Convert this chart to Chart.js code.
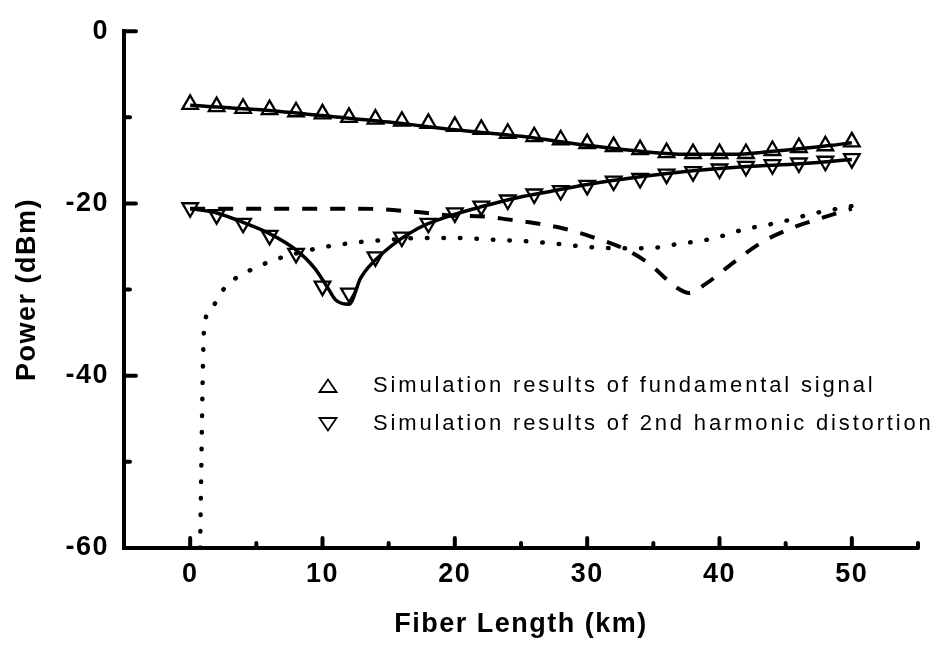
<!DOCTYPE html>
<html>
<head>
<meta charset="utf-8">
<script src="https://cdn.jsdelivr.net/npm/chart.js@4.4.0/dist/chart.umd.min.js"></script>
<style>
  body { margin: 0; background: #fff; }
  #wrap { width: 937px; height: 650px; }
</style>
</head>
<body>
<div id="wrap"><canvas id="chart" width="937" height="650"></canvas></div>
<script>
// simulation points (km / dBm)
const lengthKm = [0, 2, 4, 6, 8, 10, 12, 14, 16, 18, 20, 22, 24, 26, 28, 30, 32, 34, 36, 38, 40, 42, 44, 46, 48, 50];
const fundamentalSim = [-8.5, -8.75, -8.95, -9.1, -9.35, -9.6, -10.0, -10.2, -10.45, -10.7, -11.05, -11.4, -11.85,
  -12.25, -12.6, -13.05, -13.4, -13.75, -14.1, -14.2, -14.2, -14.2, -13.85, -13.5, -13.3, -12.85];
const harmonicSim = [-20.5, -21.3, -22.3, -23.7, -25.8, -29.6, -30.4, -26.2, -23.9, -22.3, -21.1, -20.3, -19.6,
  -18.9, -18.5, -17.9, -17.4, -17.1, -16.6, -16.3, -16.0, -15.7, -15.5, -15.3, -15.1, -14.8];

// solid curves
const fundamentalFitKm = [0, 5, 10, 15, 20, 25, 30, 34, 37.5, 41, 44, 46, 48.5, 50];
const fundamentalFit = [-8.6, -9.1, -9.8, -10.55, -11.45, -12.2, -13.25, -13.95, -14.3, -14.3, -13.95, -13.65, -13.25, -12.95];
const harmonicFitKm = [0, 2, 4, 6, 8, 9.4, 10.4, 11, 12, 12.9, 14.6, 17.2, 19.7, 22.2, 24.8, 27.2, 30, 34, 38, 42.1, 46.1, 50];
const harmonicFit = [-20.6, -21.1, -22.2, -23.5, -25.4, -27.5, -29.8, -31.2, -31.7, -28.6, -25.7, -22.9, -21.4, -20.3,
  -19.3, -18.6, -17.8, -16.9, -16.2, -15.7, -15.4, -14.9];

// dashed curve
const dashedKm = [0, 12.9, 17.2, 19.7, 22.2, 24.2, 26.1, 28.2, 30.4, 32.7, 34.6, 36.8, 37.7, 38.9, 41.1, 43.2, 45.4, 47.5, 50];
const dashedDb = [-20.6, -20.6, -21.0, -21.4, -21.5, -21.9, -22.3, -22.9, -23.9, -25.2, -26.9, -29.8, -30.4, -29.4,
  -26.8, -24.5, -22.9, -21.8, -20.6];

// dotted curve
const dottedKm = [0.75, 0.85, 0.95, 1.05, 1.6, 2.4, 3.5, 4.9, 6.1, 7.5, 10, 12.7, 15.2, 17.7, 20.2, 22.7, 25.5, 27.8,
  30.4, 32.5, 34.5, 36.9, 39.4, 41.9, 44.5, 47, 50];
const dottedDb = [-60, -50, -40, -34.5, -32.2, -30.2, -28.6, -27.5, -26.7, -26.0, -25.1, -24.5, -24.2, -24.0, -24.0,
  -24.2, -24.4, -24.7, -25.1, -25.2, -25.2, -24.7, -24.1, -23.0, -22.2, -21.2, -20.3];

// axes
const xTickLabels = [0, 10, 20, 30, 40, 50];
const xMinorTicks = [5, 15, 25, 35, 45, 55];
const yTickLabels = [0, -20, -40, -60];
const yMinorTicks = [-10, -30, -50];

const legendLabels = ['Simulation results of fundamental signal', 'Simulation results of 2nd harmonic distortion'];

const toPoints = (xs, ys) => xs.map((x, i) => ({ x: x, y: ys[i] }));

const FONT = '"Liberation Sans", Arial, Helvetica, sans-serif';

// inward tick marks + legend text
const decorPlugin = {
  id: 'decor',
  beforeDraw(chart) {
    chart.ctx.letterSpacing = '1.5px';
  },
  afterDraw(chart) {
    const ctx = chart.ctx;
    const xs = chart.scales.x;
    const ys = chart.scales.y;
    const area = chart.chartArea;
    ctx.save();
    ctx.strokeStyle = '#000';
    ctx.lineWidth = 4;
    ctx.lineCap = 'round';
    const xTick = (v, len) => {
      const px = xs.getPixelForValue(v);
      ctx.beginPath();
      ctx.moveTo(px, area.bottom);
      ctx.lineTo(px, area.bottom - len);
      ctx.stroke();
    };
    const yTick = (v, len) => {
      const py = ys.getPixelForValue(v);
      ctx.beginPath();
      ctx.moveTo(area.left, py);
      ctx.lineTo(area.left + len, py);
      ctx.stroke();
    };
    xTickLabels.forEach(v => xTick(v, 10));
    xMinorTicks.forEach(v => xTick(v, 5));
    yTickLabels.forEach(v => yTick(v, 12));
    yMinorTicks.forEach(v => yTick(v, 6));

    // legend
    const lx = 328, rows = [386, 424];
    ctx.lineWidth = 1.8;
    ctx.lineCap = 'butt';
    ctx.lineJoin = 'miter';
    rows.forEach((ry, i) => {
      const dir = i === 0 ? -1 : 1;
      ctx.beginPath();
      ctx.moveTo(lx, ry + dir * 6.5);
      ctx.lineTo(lx - 8.5, ry - dir * 6);
      ctx.lineTo(lx + 8.5, ry - dir * 6);
      ctx.closePath();
      ctx.stroke();
    });
    ctx.fillStyle = '#000';
    ctx.font = '22px ' + FONT;
    ctx.textBaseline = 'middle';
    ctx.textAlign = 'left';
    ctx.letterSpacing = '0px';
    const w = ctx.measureText(legendLabels[1]).width;
    const sp = (558 - w) / (legendLabels[1].length - 1);
    ctx.letterSpacing = sp.toFixed(2) + 'px';
    legendLabels.forEach((t, i) => ctx.fillText(t, 373, rows[i]));
    ctx.restore();
  }
};

const chart = new Chart(document.getElementById('chart'), {
  type: 'scatter',
  data: {
    datasets: [
      {
        label: 'fundamental fit',
        data: toPoints(fundamentalFitKm, fundamentalFit),
        showLine: true,
        borderColor: '#000',
        borderWidth: 3.5,
        pointRadius: 0,
        cubicInterpolationMode: 'monotone',
        order: 0,
      },
      {
        label: 'harmonic fit',
        data: toPoints(harmonicFitKm, harmonicFit),
        showLine: true,
        borderColor: '#000',
        borderWidth: 3.5,
        pointRadius: 0,
        cubicInterpolationMode: 'monotone',
        order: 0,
      },
      {
        label: 'dashed',
        data: toPoints(dashedKm, dashedDb),
        showLine: true,
        borderColor: '#000',
        borderWidth: 4,
        borderDash: [15, 13],
        pointRadius: 0,
        cubicInterpolationMode: 'monotone',
        order: 0,
      },
      {
        label: 'dotted',
        data: toPoints(dottedKm, dottedDb),
        showLine: true,
        borderColor: '#000',
        borderWidth: 4.5,
        borderDash: [0.5, 16],
        borderCapStyle: 'round',
        pointRadius: 0,
        cubicInterpolationMode: 'monotone',
        order: 0,
      },
      {
        label: legendLabels[0],
        data: toPoints(lengthKm, fundamentalSim),
        showLine: false,
        pointStyle: 'triangle',
        pointRadius: 9,
        pointBorderWidth: 2.3,
        pointBackgroundColor: '#fff',
        pointBorderColor: '#000',
        order: 1,
      },
      {
        label: legendLabels[1],
        data: toPoints(lengthKm, harmonicSim),
        showLine: false,
        pointStyle: 'triangle',
        rotation: 180,
        pointRadius: 9,
        pointBorderWidth: 2.3,
        pointBackgroundColor: '#fff',
        pointBorderColor: '#000',
        order: 1,
      },
    ],
  },
  options: {
    responsive: false,
    animation: false,
    layout: { padding: { top: 20, right: 19, left: 0, bottom: 0 } },
    plugins: {
      legend: { display: false },
      tooltip: { enabled: false },
    },
    scales: {
      x: {
        type: 'linear',
        min: -5,
        max: 55,
        afterFit: s => { s.height = 102; },
        afterBuildTicks: s => { s.ticks = xTickLabels.map(v => ({ value: v })); },
        grid: { display: false, drawTicks: false },
        border: { display: true, color: '#000', width: 4 },
        ticks: {
          color: '#000',
          padding: 10,
          maxRotation: 0,
          font: { family: FONT, size: 27, weight: 'bold' },
        },
        title: {
          display: true,
          text: 'Fiber Length (km)',
          color: '#000',
          padding: { bottom: 9 },
          font: { family: FONT, size: 27, weight: 'bold' },
        },
      },
      y: {
        type: 'linear',
        min: -60,
        max: 0,
        afterFit: s => { s.width = 124; },
        afterBuildTicks: s => { s.ticks = yTickLabels.map(v => ({ value: v })); },
        grid: { display: false, drawTicks: false },
        border: { display: true, color: '#000', width: 4 },
        ticks: {
          color: '#000',
          padding: 15,
          font: { family: FONT, size: 27, weight: 'bold' },
        },
        title: {
          display: true,
          text: 'Power (dBm)',
          color: '#000',
          padding: { top: 11 },
          font: { family: FONT, size: 27, weight: 'bold' },
        },
      },
    },
  },
  plugins: [decorPlugin],
});
</script>
</body>
</html>
